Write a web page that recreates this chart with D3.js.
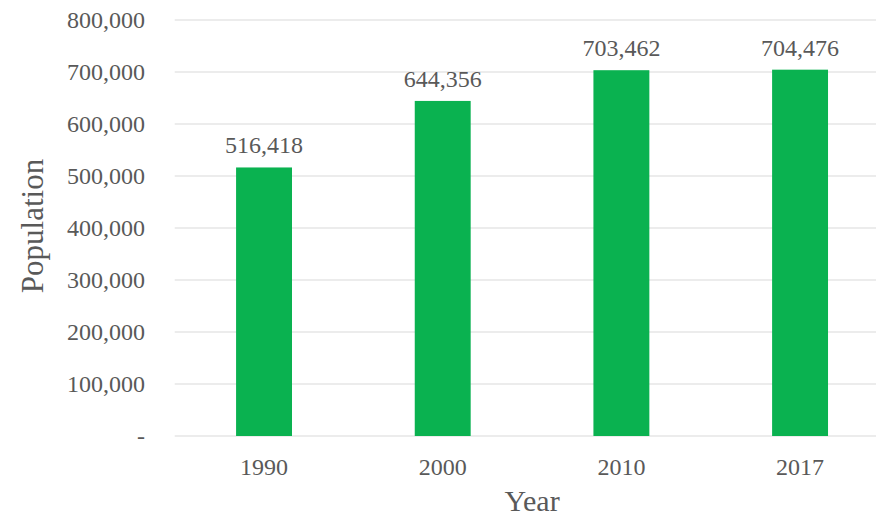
<!DOCTYPE html>
<html>
<head>
<meta charset="utf-8">
<script src="https://cdn.jsdelivr.net/npm/d3@7"></script>
<style>
  html, body { margin: 0; padding: 0; background: #fff; }
  svg { display: block; }
  text { font-family: "Liberation Serif", "Times New Roman", serif; fill: #595959; }
</style>
</head>
<body>
<svg id="chart" width="876" height="520"></svg>
<script>
// Population by census year
const years = ["1990", "2000", "2010", "2017"];
const population = [516418, 644356, 703462, 704476];
const yTicks = [0, 100000, 200000, 300000, 400000, 500000, 600000, 700000, 800000];

const svg = d3.select("#chart");
const plotLeft = 174.7, plotRight = 889.4, plotTop = 20, plotBottom = 436;

const x = d3.scaleBand()
  .domain(years)
  .range([plotLeft, plotRight])
  .paddingInner(0.687)
  .paddingOuter(0.3435);

const y = d3.scaleLinear()
  .domain([0, 800000])
  .range([plotBottom, plotTop]);

const fmt = d3.format(",");

// Horizontal gridlines
svg.append("g")
  .selectAll("line")
  .data(yTicks)
  .join("line")
  .attr("x1", plotLeft)
  .attr("x2", plotRight)
  .attr("y1", d => y(d))
  .attr("y2", d => y(d))
  .attr("stroke", "#d9d9d9")
  .attr("stroke-width", 1.2);

// Y tick labels
svg.append("g")
  .selectAll("text")
  .data(yTicks)
  .join("text")
  .attr("x", 145)
  .attr("y", d => y(d))
  .attr("dy", "0.34em")
  .attr("text-anchor", "end")
  .attr("font-size", 24)
  .text(d => d === 0 ? "-" : fmt(d));

// Bars
svg.append("g")
  .selectAll("rect")
  .data(years)
  .join("rect")
  .attr("x", d => x(d))
  .attr("width", x.bandwidth())
  .attr("y", (d, i) => y(population[i]))
  .attr("height", (d, i) => y(0) - y(population[i]))
  .attr("fill", "#0ab250");

// Value labels
svg.append("g")
  .selectAll("text")
  .data(years)
  .join("text")
  .attr("x", d => x(d) + x.bandwidth() / 2)
  .attr("y", (d, i) => y(population[i]) - 14)
  .attr("text-anchor", "middle")
  .attr("font-size", 24)
  .text((d, i) => fmt(population[i]));

// Category labels
svg.append("g")
  .selectAll("text")
  .data(years)
  .join("text")
  .attr("x", d => x(d) + x.bandwidth() / 2)
  .attr("y", 475)
  .attr("text-anchor", "middle")
  .attr("font-size", 24)
  .text(d => d);

// Axis titles
svg.append("text")
  .attr("x", (plotLeft + plotRight) / 2)
  .attr("y", 511)
  .attr("text-anchor", "middle")
  .attr("font-size", 30)
  .text("Year");

svg.append("text")
  .attr("transform", "translate(43,226) rotate(-90)")
  .attr("text-anchor", "middle")
  .attr("font-size", 31)
  .text("Population");
</script>
</body>
</html>
